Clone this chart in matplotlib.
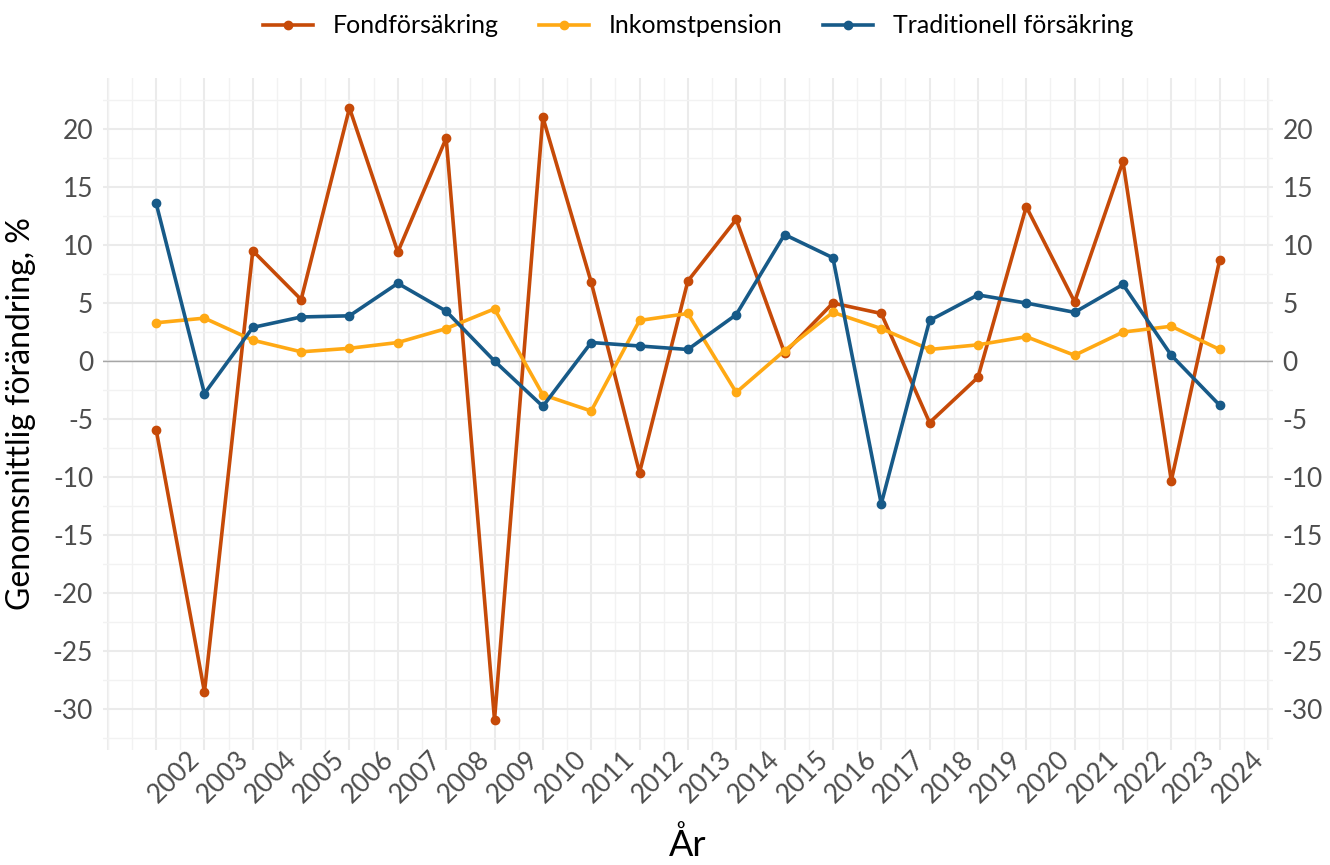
import matplotlib
matplotlib.use("Agg")
import matplotlib.pyplot as plt
import matplotlib.transforms as mtransforms
from matplotlib.ticker import MultipleLocator

plt.rcParams['font.family'] = ['Lato', 'DejaVu Sans']
plt.rcParams['axes.unicode_minus'] = False

# Data
years = list(range(2002, 2025))
fond = [-5.9, -28.5, 9.5, 5.3, 21.8, 9.4, 19.2, -30.9, 21.0, 6.8, -9.6, 6.9,
        12.2, 0.7, 5.0, 4.1, -5.3, -1.4, 13.3, 5.1, 17.2, -10.3, 8.7]
inkomst = [3.3, 3.7, 1.8, 0.8, 1.1, 1.6, 2.8, 4.5, -2.9, -4.3, 3.5, 4.1,
           -2.7, 0.9, 4.2, 2.8, 1.0, 1.4, 2.1, 0.5, 2.5, 3.0, 1.0]
trad = [13.6, -2.8, 2.9, 3.8, 3.9, 6.7, 4.3, 0.0, -3.9, 1.6, 1.3, 1.0,
        4.0, 10.9, 8.9, -12.3, 3.5, 5.7, 5.0, 4.2, 6.6, 0.5, -3.8]

series_names = ["Fondförsäkring", "Inkomstpension", "Traditionell försäkring"]
colors = ["#C64A08", "#FFA914", "#175A88"]

fig = plt.figure(figsize=(13.3, 8.65), dpi=100)
ax = fig.add_axes([0.0774, 0.133, 0.8796, 0.777])

for vals, name, c in zip([fond, inkomst, trad], series_names, colors):
    ax.plot(years, vals, color=c, lw=2.6, marker="o", ms=6, label=name,
            solid_joinstyle="round", zorder=3)

ax.axhline(0, color="#a6a6a6", lw=1.0, zorder=2)

# Limits (ggplot-like 5% expansion)
ax.set_xlim(2000.9, 2025.1)
ax.set_ylim(-33.5, 24.4)

ax.set_xticks(years)
ax.set_xticklabels([str(y) for y in years])
ax.xaxis.set_minor_locator(MultipleLocator(0.5))
ax.yaxis.set_major_locator(MultipleLocator(5))
ax.yaxis.set_minor_locator(MultipleLocator(2.5))

# Grid
ax.set_axisbelow(True)
ax.grid(which="major", color="#EBEBEB", lw=1.5)
ax.grid(which="minor", color="#F2F2F2", lw=1.0)
ax.axvline(2001, color="#EBEBEB", lw=1.5, zorder=0)
ax.axvline(2025, color="#EBEBEB", lw=1.5, zorder=0)
for s in ax.spines.values():
    s.set_visible(False)

ax.tick_params(which="both", length=0)
ax.tick_params(axis="y", labelsize=19, labelcolor="#4d4d4d", labelright=True,
               pad=7)
ax.tick_params(axis="x", labelsize=19, labelcolor="#4d4d4d", pad=0)

offset = mtransforms.ScaledTranslation(0.31, 0.03, fig.dpi_scale_trans)
for lab in ax.get_xticklabels():
    lab.set_rotation(45)
    lab.set_rotation_mode("anchor")
    lab.set_ha("right")
    lab.set_va("top")
    lab.set_transform(lab.get_transform() + offset)

ax.set_ylabel("Genomsnittlig förändring, %", fontsize=23, labelpad=12)
fig.text(0.517, 0.004, "År", fontsize=26, ha="center", va="bottom")

fig.legend(loc="center", bbox_to_anchor=(0.525, 0.97), ncol=3, frameon=False,
           fontsize=18, handlelength=2.0, columnspacing=1.6, handletextpad=0.8)

fig.savefig("out.png", dpi=100)
